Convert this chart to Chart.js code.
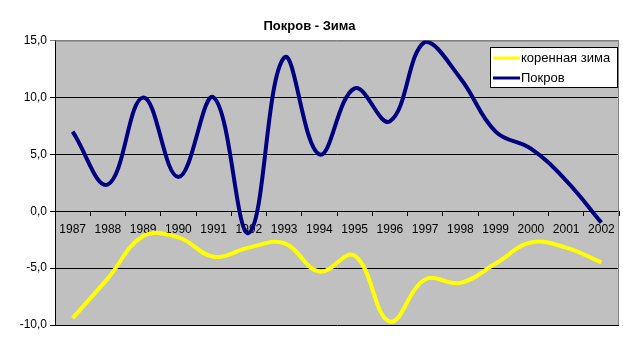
<!DOCTYPE html>
<html>
<head>
<meta charset="utf-8">
<script src="https://cdn.jsdelivr.net/npm/chart.js@4.4.0/dist/chart.umd.min.js"></script>
<style>
  html, body { margin: 0; padding: 0; background: #fff; }
</style>
</head>
<body>
<canvas id="myChart" width="623" height="351"></canvas>
<script>
const years = ['1987', '1988', '1989', '1990', '1991', '1992', '1993', '1994',
               '1995', '1996', '1997', '1998', '1999', '2000', '2001', '2002'];
const zima = [-9.4, -5.9, -2.2, -2.3, -4.0, -3.2, -2.8, -5.3,
              -3.9, -9.7, -6.0, -6.3, -4.6, -2.75, -3.2, -4.5];
const pokrov = [7.0, 2.35, 10.0, 3.0, 10.0, -1.9, 13.5, 5.0,
                10.8, 7.9, 14.9, 11.7, 7.0, 5.5, 2.7, -1.0];
const yMin = -10;
const yMax = 15;
const yStep = 5;

const font = 'Arial, "Liberation Sans", sans-serif';

// grey plot area + grey frame on top/right like Excel
const plotArea = {
    id: 'plotArea',
    beforeDraw(chart) {
        const {ctx, chartArea: a} = chart;
        ctx.save();
        ctx.fillStyle = '#C0C0C0';
        ctx.fillRect(a.left, a.top, a.right - a.left, a.bottom - a.top);
        ctx.restore();
    },
    beforeDatasetsDraw(chart) {
        const {ctx, chartArea: a} = chart;
        ctx.save();
        ctx.strokeStyle = '#808080';
        ctx.lineWidth = 1;
        ctx.beginPath();
        ctx.moveTo(a.left, a.top + 0.5);
        ctx.lineTo(a.right - 0.5, a.top + 0.5);
        ctx.lineTo(a.right - 0.5, a.bottom);
        ctx.stroke();
        ctx.restore();
    }
};

// legend box inside the plot, top right
const boxLegend = {
    id: 'boxLegend',
    afterDraw(chart) {
        const ctx = chart.ctx;
        const x = 490, y = 47, w = 128, h = 41;
        ctx.save();
        ctx.fillStyle = '#fff';
        ctx.fillRect(x, y, w, h);
        ctx.strokeStyle = '#000';
        ctx.lineWidth = 1;
        ctx.strokeRect(x + 0.5, y + 0.5, w - 1, h - 1);
        ctx.font = '13px ' + font;
        ctx.textBaseline = 'middle';
        chart.data.datasets.forEach((ds, i) => {
            const ly = y + 11 + i * 20;
            ctx.strokeStyle = ds.borderColor;
            ctx.lineWidth = 3;
            ctx.beginPath();
            ctx.moveTo(x + 3, ly);
            ctx.lineTo(x + 30, ly);
            ctx.stroke();
            ctx.fillStyle = '#000';
            ctx.fillText(ds.label, x + 31, ly);
        });
        ctx.restore();
    }
};

const ctx = document.getElementById('myChart').getContext('2d');
const myChart = new Chart(ctx, {
    type: 'line',
    data: {
        labels: years,
        datasets: [
            {
                label: 'коренная зима',
                data: zima,
                borderColor: '#FFFF00',
                borderWidth: 4,
                pointRadius: 0,
                tension: 0.4,
                fill: false
            },
            {
                label: 'Покров',
                data: pokrov,
                borderColor: '#000080',
                borderWidth: 4,
                pointRadius: 0,
                tension: 0.4,
                fill: false
            }
        ]
    },
    options: {
        responsive: false,
        animation: false,
        layout: {
            padding: { left: 0, right: 4, top: 0, bottom: 26 }
        },
        plugins: {
            legend: { display: false },
            tooltip: { enabled: false },
            title: {
                display: true,
                text: 'Покров - Зима',
                color: '#000',
                font: { family: font, size: 13, weight: 'bold' },
                padding: { top: 19, bottom: 6 }
            }
        },
        scales: {
            x: {
                position: { y: 0 },
                offset: true,
                grid: {
                    offset: true,
                    drawOnChartArea: false,
                    drawTicks: true,
                    tickLength: 4,
                    color: '#000'
                },
                border: { display: true, color: '#000' },
                ticks: {
                    color: '#000',
                    font: { family: font, size: 12 },
                    padding: 7,
                    autoSkip: false,
                    maxRotation: 0
                }
            },
            y: {
                min: yMin,
                max: yMax,
                afterFit(scale) { scale.width = 55; },
                grid: {
                    color: (c) => (c.tick && c.tick.value === yMax) ? '#808080' : '#000',
                    tickLength: 5
                },
                border: { display: true, color: '#000' },
                ticks: {
                    stepSize: yStep,
                    color: '#000',
                    font: { family: font, size: 12 },
                    padding: 3,
                    callback: (v) => v.toFixed(1).replace('.', ',')
                }
            }
        }
    },
    plugins: [plotArea, boxLegend]
});
</script>
</body>
</html>
